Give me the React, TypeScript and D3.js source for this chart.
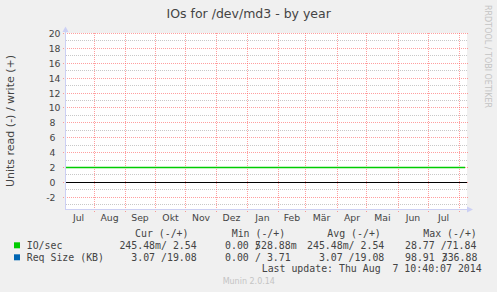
import React from "react";
import * as d3 from "d3";

// ---- data ----
const ioDates = [
  "2013-07-04", "2013-08-01", "2013-09-01", "2013-10-01", "2013-11-01", "2013-12-01",
  "2014-01-01", "2014-02-01", "2014-03-01", "2014-04-01", "2014-05-01", "2014-06-01",
  "2014-07-01", "2014-08-07",
];
const ioWrite = [2.0, 2.0, 2.0, 2.0, 2.0, 2.0, 2.0, 2.0, 2.0, 2.0, 2.0, 2.0, 2.0, 2.0];

const monthLabels = ["Jul", "Aug", "Sep", "Okt", "Nov", "Dez", "Jan", "Feb", "Mär", "Apr", "Mai", "Jun", "Jul"];
const monthStarts = [
  "2013-07-01", "2013-08-01", "2013-09-01", "2013-10-01", "2013-11-01", "2013-12-01",
  "2014-01-01", "2014-02-01", "2014-03-01", "2014-04-01", "2014-05-01", "2014-06-01",
  "2014-07-01", "2014-08-01",
];
const yTicks = [-2, 0, 2, 4, 6, 8, 10, 12, 14, 16, 18, 20];
const yMinorTicks = [-3, -1, 1, 3, 5, 7, 9, 11, 13, 15, 17, 19];

const legendHeaders = ["Cur (-/+)", "Min (-/+)", "Avg (-/+)", "Max (-/+)"];
const seriesNames = ["IO/sec", "Req Size (KB)"];
const seriesColors = ["#00CC00", "#0066B3"];
const curValues = ["245.48m/ 2.54", "3.07 /19.08"];
const minLeft = ["0.00", "0.00"];
const minRight = ["528.88m", "/ 3.71"];
const avgValues = ["245.48m/ 2.54", "3.07 /19.08"];
const maxLeft = ["28.77 /71.84", "98.91"];
const maxRight = ["", "336.88"];

const title = "IOs for /dev/md3 - by year";
const yTitle = "Units read (-) / write (+)";
const lastUpdate = "Last update: Thu Aug  7 10:40:07 2014";
const watermark = "RRDTOOL / TOBI OETIKER";
const footer = "Munin 2.0.14";

const W = 497, H = 292;
const X0 = 66, X1 = 466, YT = 33.5, YB = 208.5;

export default function App() {
  const parse = d3.utcParse("%Y-%m-%d");
  const x = d3.scaleUtc()
    .domain([parse("2013-07-04")!, parse("2014-08-08")!])
    .range([X0, X1]);
  const y = d3.scaleLinear().domain([-3.5, 20]).range([YB, YT]);
  const cy = (v: number) => Math.floor(y(v)) + 0.5;
  const cx = (d: Date) => Math.floor(x(d)) + 0.5;

  const pts = ioDates.map((d, i) => [x(parse(d)!), cy(ioWrite[i])] as [number, number]);
  const line = d3.line();

  const ms = monthStarts.map((d) => parse(d)!);
  const grid = ms.slice(1);
  const labelPos = monthLabels.map((_, i) => (x(ms[i]) + x(ms[i + 1])) / 2);

  const axisColor = "#CCD0F4";
  const major = "#FF5050";
  const minor = "#c8c8c8";
  const txt = "#444";
  const mono = "'DejaVu Sans Mono', monospace";
  const sans = "'DejaVu Sans', sans-serif";

  return (
    <svg width={W} height={H} style={{ position: "absolute", left: 0, top: 0 }}>
      <rect x={0} y={0} width={W} height={H} fill="#F0F0F0" />
      <rect x={X0} y={33} width={X1 - X0 + 1} height={176} fill="#FFFFFF" />

      <g shapeRendering="crispEdges">
        {/* minor grid */}
        {yMinorTicks.map((v) => (
          <line key={"mi" + v} x1={X0} x2={X1 + 1} y1={cy(v)} y2={cy(v)} stroke={minor} strokeDasharray="1,1" />
        ))}
        {/* major grid */}
        {yTicks.map((v) => (
          <line key={"ma" + v} x1={X0 - 3} x2={X1 + 3} y1={cy(v)} y2={cy(v)} stroke={major} strokeOpacity={0.55} strokeDasharray="1,1" />
        ))}
        {grid.map((d, i) => (
          <line key={"v" + i} x1={cx(d)} x2={cx(d)} y1={YT - 0.5} y2={YB + 4} stroke={major} strokeOpacity={0.55} strokeDasharray="1,1" />
        ))}
      </g>

      {/* data */}
      <path d={line(pts) || ""} fill="none" stroke={seriesColors[0]} strokeWidth={1.3} />
      <line x1={X0} x2={X1 + 1} y1={cy(0)} y2={cy(0)} stroke="#000" strokeWidth={1.2} />

      {/* axes */}
      <line x1={X0 - 0.5} x2={X0 - 0.5} y1={YB + 1} y2={30} stroke={axisColor} />
      <line x1={X0 - 1} x2={X1 + 2} y1={YB + 1} y2={YB + 1} stroke={axisColor} />
      <path d={`M${X0 - 3.5},${32} L${X0 - 0.5},${26.5} L${X0 + 2.5},${32} Z`} fill={axisColor} />
      <path d={`M${X1 + 1},${YB - 2} L${X1 + 7},${YB + 1} L${X1 + 1},${YB + 4} Z`} fill={axisColor} />

      {/* y labels */}
      {yTicks.map((v) => (
        <text key={"yl" + v} x={Math.abs(v) >= 10 ? 60.5 : 55.5} y={cy(v) + 3.3} textAnchor="end"
          fontFamily={sans} fontSize={9.3} fill={txt}>{v}</text>
      ))}
      {/* x labels */}
      {monthLabels.map((m, i) => (
        <text key={"xl" + i} x={labelPos[i]} y={221} textAnchor="middle" fontFamily={sans} fontSize={9.3} fill={txt}>{m}</text>
      ))}

      {/* titles */}
      <text x={248.7} y={18} textAnchor="middle" fontFamily={sans} fontSize={12.5} fill={txt}>{title}</text>
      <text transform={`translate(14,121) rotate(-90)`} textAnchor="middle" fontFamily={sans} fontSize={11} fill={txt}>{yTitle}</text>
      <text transform={`translate(485,5) rotate(90)`} fontFamily={sans} fontSize={8} fill="#c4c4c4">{watermark}</text>

      {/* legend */}
      {legendHeaders.map((h, i) => (
        <text key={"h" + i} x={[135, 231.7, 327.3, 423.3][i]} y={236.5} fontFamily={mono} fontSize={9.9} fill={txt} style={{ whiteSpace: "pre" }}>{h}</text>
      ))}
      {seriesNames.map((n, i) => {
        const by = 249 + i * 12;
        return (
          <g key={"s" + i} fontFamily={mono} fontSize={9.9} fill={txt} style={{ whiteSpace: "pre" }}>
            <rect x={14} y={by - 6.7} width={6} height={6} fill={seriesColors[i]} />
            <text x={26.7} y={by}>{n}</text>
            <text x={196.7} y={by} textAnchor="end">{curValues[i]}</text>
            <text x={225} y={by}>{minLeft[i]}</text>
            {i === 0 ? <text x={255} y={by}>/</text> : null}
            <text x={255} y={by}>{minRight[i]}</text>
            <text x={384.3} y={by} textAnchor="end">{avgValues[i]}</text>
            <text x={405} y={by}>{maxLeft[i]}</text>
            {maxRight[i] ? <text x={441.7} y={by}>/</text> : null}
            {maxRight[i] ? <text x={441.7} y={by}>{maxRight[i]}</text> : null}
          </g>
        );
      })}
      <text x={261.7} y={272.3} fontFamily={mono} fontSize={9.9} fill={txt} style={{ whiteSpace: "pre" }}>{lastUpdate}</text>
      <text x={248.8} y={284} textAnchor="middle" fontFamily={sans} fontSize={8} fill="#c4c4c4">{footer}</text>
    </svg>
  );
}
